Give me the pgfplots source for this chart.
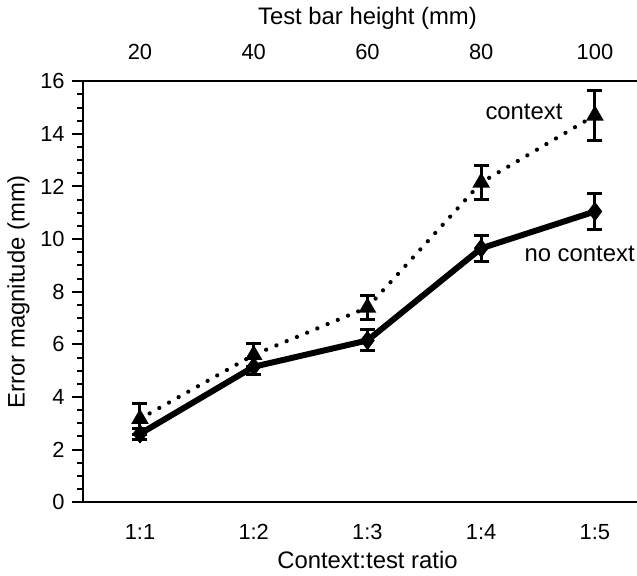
\documentclass[border=0pt]{standalone}
\usepackage{fontspec}
\setmainfont{Liberation Sans}
\usepackage{pgfplots}
\pgfplotsset{compat=1.18}

\begin{document}
\fontsize{22}{26}\selectfont
\begin{tikzpicture}
\begin{axis}[
    name=main,
    scale only axis,
    width=570bp, height=422bp,
    xmin=0.5, xmax=5.5,
    ymin=0, ymax=16,
    xtick={1,2,3,4,5},
    xticklabels={1:1,1:2,1:3,1:4,1:5},
    xtick pos=bottom,
    x tick style={draw=none},
    xticklabel shift=4bp,
    ytick={0,2,...,16},
    ytick pos=left,
    minor y tick num=3,
    tick align=outside,
    major tick length=11bp,
    minor tick length=6bp,
    tick style={line width=2bp, black},
    axis line style={line width=2bp},
    xlabel={Context:test ratio},
    ylabel={Error magnitude (mm)},
    label style={font=\fontsize{24}{28}\selectfont},
    xlabel style={yshift=4bp},
    ylabel style={yshift=-4bp},
    /pgf/number format/assume math mode=true,
    clip=false,
]
% context
\addplot[black, line width=4.2bp, line cap=round, dash pattern=on 0.1bp off 11bp,
    mark=triangle*, mark size=6bp, mark options={solid},
    error bars/.cd, y dir=both, y explicit,
    error bar style={line width=3bp, solid},
    error mark options={rotate=90, line width=3bp, mark size=7.5bp, solid}]
coordinates {
    (1,3.17) +- (0,0.6)
    (2,5.6)  +- (0,0.45)
    (3,7.4)  +- (0,0.45)
    (4,12.15) +- (0,0.65)
    (5,14.7) +- (0,0.95)
};
% no context
\addplot[black, line width=6bp, line join=round,
    mark=diamond*, mark size=9bp, mark options={line width=1bp},
    error bars/.cd, y dir=both, y explicit,
    error bar style={line width=3bp},
    error mark options={rotate=90, line width=3bp, mark size=7.5bp}]
coordinates {
    (1,2.6)  +- (0,0.2)
    (2,5.15) +- (0,0.3)
    (3,6.15) +- (0,0.4)
    (4,9.65) +- (0,0.5)
    (5,11.05) +- (0,0.7)
};
\node[anchor=east, font=\fontsize{24}{28}\selectfont] at (axis cs:4.78,14.85) {context};
\node[anchor=east, inner sep=1bp, font=\fontsize{24}{28}\selectfont] at (axis cs:5.36,9.43) {no context};
\coordinate (cutR) at (axis cs:5.37,16);
\end{axis}
\begin{axis}[
    scale only axis,
    width=570bp, height=422bp,
    xmin=0.5, xmax=5.5,
    ymin=0, ymax=16,
    axis x line*=top,
    axis y line=none,
    axis line style={draw=none},
    xtick={1,2,3,4,5},
    xticklabels={20,40,60,80,100},
    x tick style={draw=none},
    xticklabel shift=14bp,
    xlabel={Test bar height (mm)},
    label style={font=\fontsize{24}{28}\selectfont},
    /pgf/number format/assume math mode=true,
]
\end{axis}
\coordinate (bbsw) at (current bounding box.south west);
\coordinate (bbne) at (current bounding box.north east);
\pgfresetboundingbox
\path[use as bounding box] (bbsw) rectangle (cutR |- bbne);
\end{tikzpicture}
\end{document}
